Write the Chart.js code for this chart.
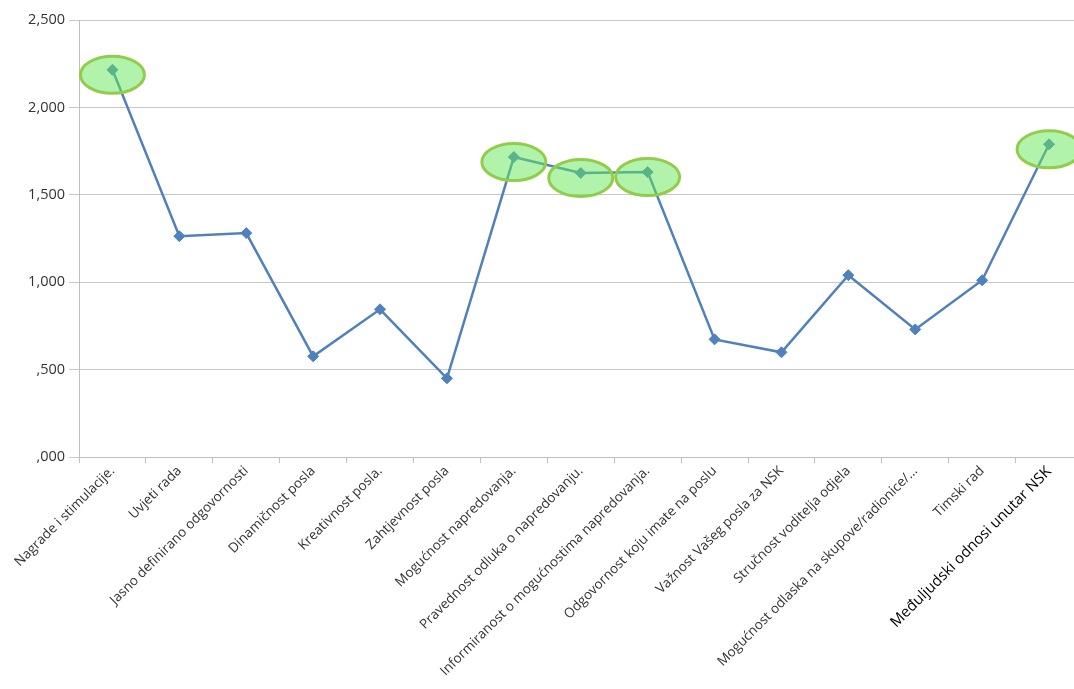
<!DOCTYPE html>
<html>
<head>
<meta charset="utf-8">
<script src="https://cdn.jsdelivr.net/npm/chart.js@4.4.1/dist/chart.umd.min.js"></script>
<style>
  html, body { margin: 0; padding: 0; background: #ffffff; overflow: hidden; }
  #wrap { position: absolute; left: 0; top: 0; width: 1089px; height: 689px; }
</style>
</head>
<body>
<div id="wrap"><canvas id="c"></canvas></div>
<script>
// Survey items (job-satisfaction factors)
const categories = [
  "Nagrade i stimulacije.",
  "Uvjeti rada",
  "Jasno definirano odgovornosti",
  "Dinamičnost posla",
  "Kreativnost posla.",
  "Zahtjevnost posla",
  "Mogućnost napredovanja.",
  "Pravednost odluka o napredovanju.",
  "Informiranost o mogućnostima napredovanja.",
  "Odgovornost koju imate na poslu",
  "Važnost Vašeg posla za NSK",
  "Stručnost voditelja odjela",
  "Mogućnost odlaska na skupove/radionice/...",
  "Timski rad",
  "Međuljudski odnosi unutar NSK"
];

// Mean score per item
const values = [2.215, 1.263, 1.281, 0.576, 0.845, 0.450, 1.716, 1.625, 1.630, 0.673, 0.599, 1.040, 0.730, 1.011, 1.789];

// Y-axis tick labels (decimal comma, no leading zero)
const tickLabels = [",000", ",500", "1,000", "1,500", "2,000", "2,500"];

// Items circled in green
const highlighted = [0, 6, 7, 8, 14];

const highlightPlugin = {
  id: 'highlightRings',
  afterDatasetsDraw(chart) {
    const meta = chart.getDatasetMeta(0);
    const ctx = chart.ctx;
    ctx.save();
    highlighted.forEach(i => {
      const p = meta.data[i];
      ctx.beginPath();
      ctx.ellipse(p.x, p.y + 5, 32, 18.5, 0, 0, Math.PI * 2);
      ctx.fillStyle = 'rgba(100, 232, 88, 0.5)';
      ctx.fill();
      ctx.lineWidth = 3;
      ctx.strokeStyle = '#92cc4a';
      ctx.stroke();
    });
    ctx.restore();
  }
};

new Chart(document.getElementById('c'), {
  type: 'line',
  data: {
    labels: categories,
    datasets: [{
      data: values,
      borderColor: '#4f81bd',
      backgroundColor: '#4f81bd',
      borderWidth: 2.5,
      pointStyle: 'rectRot',
      pointRadius: 5.5,
      pointBorderWidth: 1,
      pointBackgroundColor: '#4f81bd',
      pointBorderColor: '#4f81bd',
      tension: 0,
      fill: false
    }]
  },
  options: {
    responsive: true,
    maintainAspectRatio: false,
    animation: false,
    layout: { padding: { top: 20, right: 0, bottom: 0, left: 0 } },
    plugins: {
      legend: { display: false },
      tooltip: { enabled: false }
    },
    scales: {
      x: {
        offset: true,
        grid: {
          offset: true,
          drawOnChartArea: false,
          color: '#bfbfbf',
          tickLength: 6
        },
        border: { color: '#bfbfbf' },
        ticks: {
          autoSkip: false,
          minRotation: 45,
          maxRotation: 45,
          padding: 0,
          color: ctx => ctx.index === 14 ? '#000000' : '#333333',
          font: ctx => ctx.index === 14
            ? { family: 'Open Sans', size: 15 }
            : { family: 'Open Sans', size: 13.5 }
        },
        afterFit(scale) { scale.height = 232; }
      },
      y: {
        min: 0,
        max: 2.5,
        grid: { color: '#c8c8c8', tickLength: 10 },
        border: { color: '#bfbfbf' },
        ticks: {
          stepSize: 0.5,
          padding: 4,
          color: '#333333',
          font: { family: 'Open Sans', size: 14.5 },
          callback: (v, i) => tickLabels[i]
        },
        afterFit(scale) { scale.width = 79; }
      }
    }
  },
  plugins: [highlightPlugin]
});
</script>
</body>
</html>
